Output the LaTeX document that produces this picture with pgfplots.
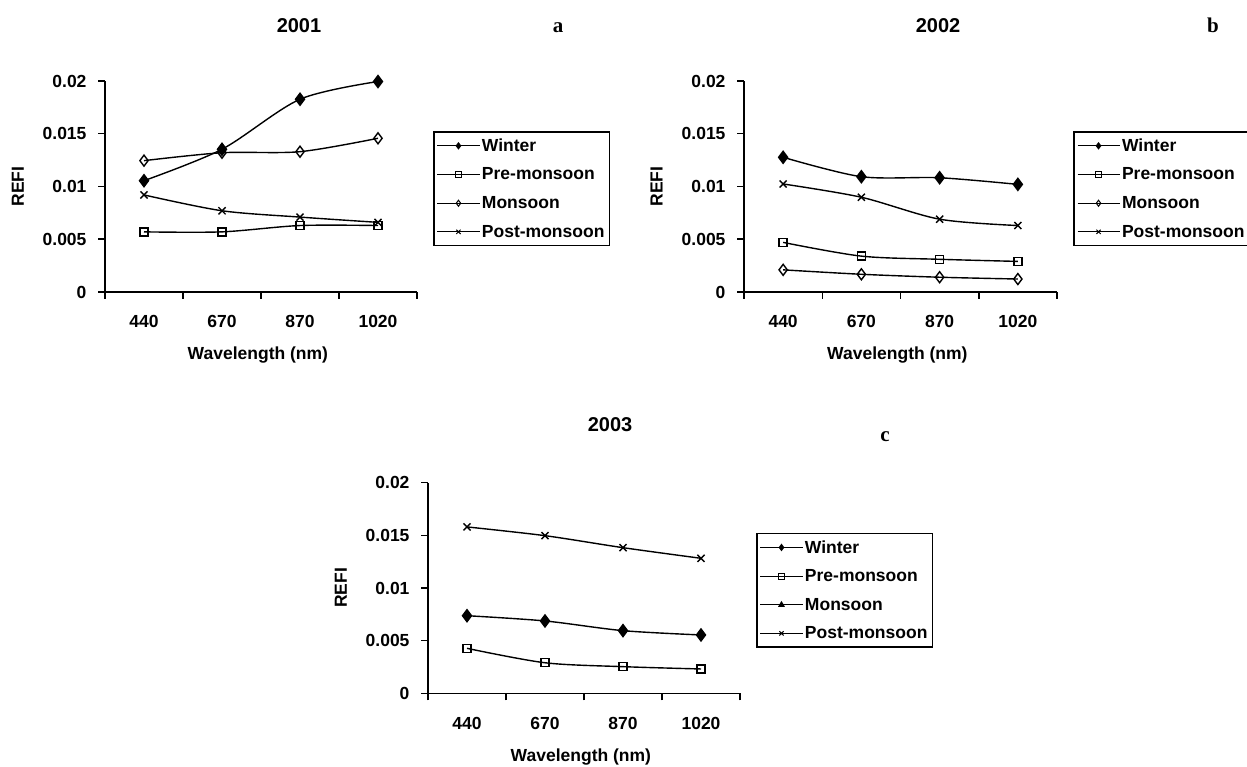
\documentclass[border=0pt]{standalone}
\usepackage{fontspec}
\setmainfont{Liberation Sans}
\newfontfamily\serifbf{Liberation Serif}
\usepackage{pgfplots}
\pgfplotsset{compat=1.18}
\newcommand{\lblfont}{\bfseries\fontsize{17.5}{20}\selectfont}
\pgfplotsset{
  refi/.style={
    scale only axis, width=312pt, height=211pt,
    xmin=-0.5, xmax=3.5, ymin=0, ymax=0.02, clip=false,
    scaled y ticks=false,
    axis x line=bottom, axis y line=left,
    axis line style={-, line width=1.6pt, black},
    xtick={0,1,2,3}, xticklabels={440,670,870,1020},
    major x tick style={draw=none},
    minor xtick={-0.5,0.5,1.5,2.5,3.5},
    minor x tick style={line width=1.5pt, black},
    minor tick length=7pt, major tick length=7pt,
    tick align=outside,
    ytick={0,0.005,0.01,0.015,0.02}, yticklabels={0,0.005,0.01,0.015,0.02},
    y tick style={line width=1.5pt, black},
    ticklabel style={font=\lblfont},
    xticklabel style={yshift=-13pt},
    yticklabel style={xshift=-8pt},
    label style={font=\lblfont},
    xlabel={Wavelength (nm)}, ylabel={REFI},
    xlabel style={at={(axis description cs:0.49,-0.322)}, anchor=base},
    ylabel style={at={(axis description cs:-0.279,0.5)}, anchor=center},
    legend cell align=left,
    legend style={at={(1.052,0.763)}, anchor=north west, draw=black, line width=1.5pt,
      font=\lblfont, row sep=11pt, inner xsep=3pt, inner ysep=5pt},
    legend image code/.code={\draw[mark repeat=2,mark phase=2,##1,line width=1pt,mark size=3pt]
      plot coordinates {(0pt,0pt) (21pt,0pt) (42pt,0pt)};},
  },
  ser/.style={black, line width=1.4pt, smooth, mark options={solid}},
  win/.style={ser, mark=diamond*, mark size=6pt, mark options={fill=black}},
  pre/.style={ser, mark=square, mark size=4pt, mark options={fill=white}},
  mon/.style={ser, mark=diamond, mark size=5.5pt, mark options={fill=white}},
  monc/.style={ser, mark=triangle*, mark size=5pt, mark options={fill=black}},
  post/.style={ser, mark=x, mark size=5pt},
}
\begin{document}
\begin{tikzpicture}
% panel a
\begin{axis}[refi, at={(105pt,474pt)}, anchor=south west]
\addplot[win] coordinates {(0,0.01055) (1,0.01353) (2,0.01827) (3,0.01995)};
\addlegendentry{Winter}
\addplot[pre] coordinates {(0,0.0057) (1,0.0057) (2,0.0063) (3,0.0063)};
\addlegendentry{Pre-monsoon}
\addplot[mon] coordinates {(0,0.01245) (1,0.0132) (2,0.0133) (3,0.01457)};
\addlegendentry{Monsoon}
\addplot[post] coordinates {(0,0.0092) (1,0.0077) (2,0.0071) (3,0.0066)};
\addlegendentry{Post-monsoon}
\end{axis}
% panel b
\begin{axis}[refi, width=313pt, at={(744pt,474pt)}, anchor=south west]
\addplot[win] coordinates {(0,0.01277) (1,0.01093) (2,0.01083) (3,0.0102)};
\addlegendentry{Winter}
\addplot[pre] coordinates {(0,0.0047) (1,0.0034) (2,0.0031) (3,0.0029)};
\addlegendentry{Pre-monsoon}
\addplot[mon] coordinates {(0,0.0021) (1,0.00168) (2,0.0014) (3,0.00123)};
\addlegendentry{Monsoon}
\addplot[post] coordinates {(0,0.01024) (1,0.00898) (2,0.0069) (3,0.0063)};
\addlegendentry{Post-monsoon}
\end{axis}
% panel c
\begin{axis}[refi, height=210.6pt, at={(428pt,72.7pt)}, anchor=south west]
\addplot[win] coordinates {(0,0.00737) (1,0.00687) (2,0.00595) (3,0.00554)};
\addlegendentry{Winter}
\addplot[pre] coordinates {(0,0.00427) (1,0.0029) (2,0.00253) (3,0.00231)};
\addlegendentry{Pre-monsoon}
\addlegendimage{monc}
\addlegendentry{Monsoon}
\addplot[post] coordinates {(0,0.0158) (1,0.01497) (2,0.01383) (3,0.01282)};
\addlegendentry{Post-monsoon}
\end{axis}
% titles
\node[font=\bfseries\fontsize{20}{22}\selectfont, anchor=base] at (299pt,733.5pt) {2001};
\node[font=\serifbf\bfseries\fontsize{21}{23}\selectfont, anchor=base] at (558pt,733.5pt) {a};
\node[font=\bfseries\fontsize{20}{22}\selectfont, anchor=base] at (938pt,733.5pt) {2002};
\node[font=\serifbf\bfseries\fontsize{21}{23}\selectfont, anchor=base] at (1213pt,733.5pt) {b};
\node[font=\bfseries\fontsize{20}{22}\selectfont, anchor=base] at (610pt,334pt) {2003};
\node[font=\serifbf\bfseries\fontsize{21}{23}\selectfont, anchor=base] at (885pt,324pt) {c};
\pgfresetboundingbox
\path[use as bounding box] (0pt,0pt) rectangle (1247pt,766pt);
\end{tikzpicture}
\end{document}
